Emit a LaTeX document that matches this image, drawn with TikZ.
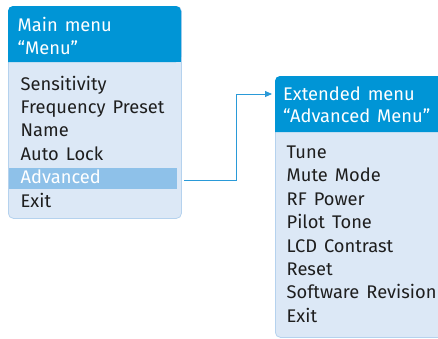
\documentclass[tikz,border=0pt]{standalone}
\usepackage{fontspec}
\setmainfont{Fira Sans}[WordSpace=1.45]
\usetikzlibrary{arrows.meta}
\definecolor{hdr}{HTML}{0095D6}
\definecolor{bodyc}{HTML}{DCE8F6}
\definecolor{brd}{HTML}{B5D2EE}
\definecolor{hil}{HTML}{8EC1E9}
\definecolor{txt}{HTML}{1E1E1E}
\definecolor{arr}{HTML}{2A9AD8}
\tikzset{
  menubody/.style={draw=brd, line width=0.8pt, fill=bodyc, rounded corners=5pt, anchor=north west, inner sep=0pt},
  hdrtext/.style={anchor=base west, inner sep=0pt, text=white, font=\fontsize{18.3}{20}\selectfont},
  item/.style={anchor=base west, inner sep=0pt, text=txt, font=\fontsize{18.3}{20}\selectfont},
  conn/.style={draw=arr, line width=0.9pt, -{Triangle[length=7pt,width=6pt]}}
}
\begin{document}
\begin{tikzpicture}[x=1pt,y=-1pt]
\useasboundingbox (0,0) rectangle (438,338);
\clip (0,0) rectangle (438,338);
% main menu box
\node[menubody, minimum width=173pt, minimum height=212pt] (mainbox) at (8,6) {};
\fill[hdr, rounded corners=5pt] (8,62) -- (8,6) -- (181,6) -- (181,62) [sharp corners] -- cycle;
\fill[hdr] (8,50) rectangle (181,62);
\node[hdrtext] (m1) at (17.5,31.7) {Main menu};
\node[hdrtext] (m2) at (17.5,54) {“Menu”};
\fill[hil] (9,168) rectangle (177,189);
\node[item] (i1) at (20.5,90) {Sensitivity};
\node[item] (i2) at (20.5,113.4) {Frequency Preset};
\node[item] (i3) at (20.5,136.8) {Name};
\node[item] (i4) at (20.5,160.2) {Auto Lock};
\node[item, text=white] (i5) at (20.5,183.6) {Advanced};
\node[item] (i6) at (20.5,207) {Exit};
% extended menu box
\node[menubody, minimum width=180pt, minimum height=261pt] (extbox) at (275,76) {};
\fill[hdr, rounded corners=5pt] (275,132) -- (275,76) -- (455,76) -- (455,132) [sharp corners] -- cycle;
\fill[hdr] (275,120) rectangle (455,132);
\node[hdrtext] (e1) at (283,100) {Extended menu};
\node[hdrtext] (e2) at (283,122.7) {“Advanced Menu”};
\node[item] (j1) at (286.5,158.5) {Tune};
\node[item] (j2) at (286.5,181.9) {Mute Mode};
\node[item] (j3) at (286.5,205.3) {RF Power};
\node[item] (j4) at (286.5,228.7) {Pilot Tone};
\node[item] (j5) at (286.5,252.1) {LCD Contrast};
\node[item] (j6) at (286.5,275.5) {Reset};
\node[item] (j7) at (286.5,298.9) {Software Revision};
\node[item] (j8) at (286.5,322.3) {Exit};
% connector
\coordinate (a0) at (184,180);
\coordinate (a1) at (272,94);
\draw[conn] (a0) -- (236,180) -- (236,94) -- (a1);
\end{tikzpicture}
\end{document}
